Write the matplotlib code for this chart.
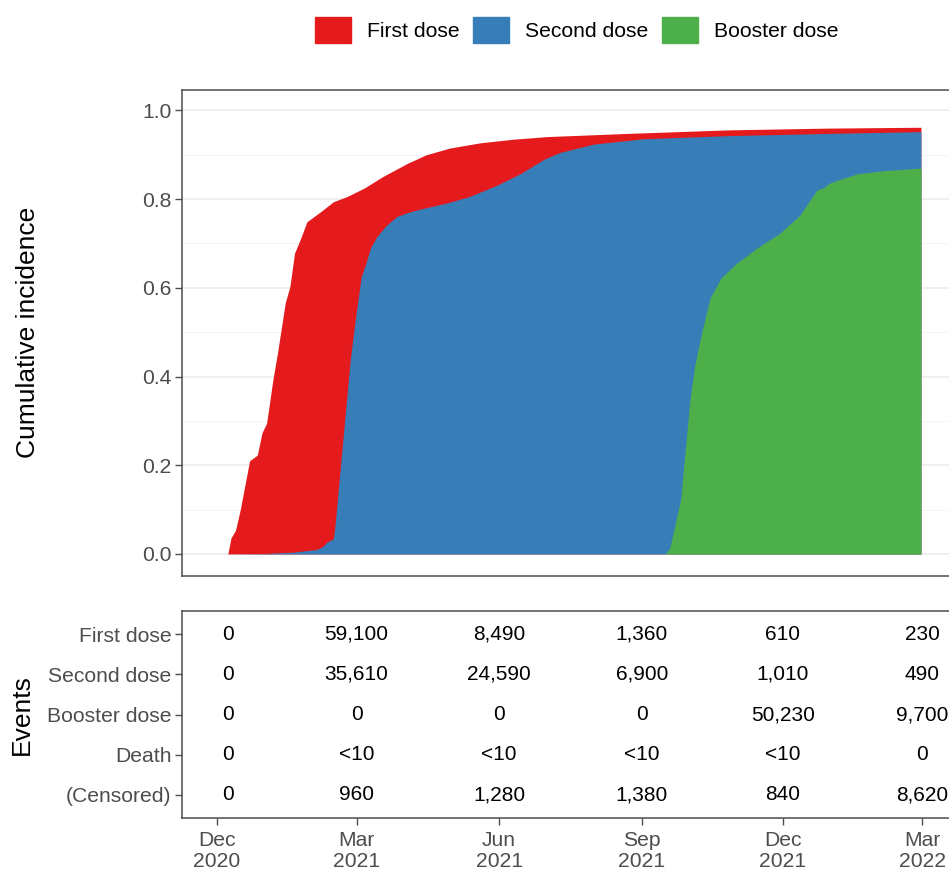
import pandas as pd
import matplotlib
matplotlib.use("Agg")
import matplotlib.pyplot as plt
from matplotlib.patches import Patch

plt.rcParams["font.family"] = ["Liberation Sans", "DejaVu Sans"]

# cumulative incidence curves (days after 1 Dec 2020)
start = pd.Timestamp("2020-12-01")

first_days = [7, 9, 12, 15, 21, 26, 29, 32, 36, 39, 44, 47, 50, 54, 58, 67, 75, 84,
              95, 107, 123, 135, 150, 170, 191, 213, 228, 264, 329, 393, 454]
first_cif = [0.0, 0.036, 0.054, 0.10, 0.21, 0.223, 0.273, 0.295, 0.392, 0.453, 0.566,
             0.603, 0.678, 0.712, 0.749, 0.772, 0.794, 0.806, 0.825, 0.851, 0.881,
             0.90, 0.915, 0.927, 0.935, 0.941, 0.943, 0.948, 0.956, 0.960, 0.962]

second_days = [7, 30, 49, 64, 68, 71, 75, 76, 81, 86, 90, 93, 96, 99, 103, 109, 116,
               125, 133, 148, 163, 181, 196, 211, 221, 243, 275, 329, 393, 454]
second_cif = [0.0, 0.001, 0.004, 0.01, 0.016, 0.027, 0.034, 0.06, 0.25, 0.44, 0.55,
              0.625, 0.655, 0.69, 0.715, 0.74, 0.761, 0.772, 0.779, 0.791, 0.806,
              0.832, 0.858, 0.89, 0.905, 0.924, 0.936, 0.943, 0.948, 0.952]

booster_days = [7, 289, 292, 299, 302, 305, 308, 312, 318, 325, 335, 348, 363, 376,
                387, 391, 395, 404, 413, 430, 454]
booster_cif = [0.0, 0.0, 0.013, 0.122, 0.234, 0.347, 0.422, 0.49, 0.577, 0.622, 0.655,
               0.689, 0.723, 0.764, 0.821, 0.825, 0.836, 0.847, 0.857, 0.864, 0.870]

# events table
row_names = ["First dose", "Second dose", "Booster dose", "Death", "(Censored)"]
table_dates = ["2020-12-08", "2021-03-01", "2021-06-01", "2021-09-01", "2021-12-01", "2022-03-01"]
first_events = ["0", "59,100", "8,490", "1,360", "610", "230"]
second_events = ["0", "35,610", "24,590", "6,900", "1,010", "490"]
booster_events = ["0", "0", "0", "0", "50,230", "9,700"]
death_events = ["0", "<10", "<10", "<10", "<10", "0"]
censored_events = ["0", "960", "1,280", "1,380", "840", "8,620"]

tick_dates = ["2020-12-01", "2021-03-01", "2021-06-01", "2021-09-01", "2021-12-01", "2022-03-01"]
tick_labels = ["Dec\n2020", "Mar\n2021", "Jun\n2021", "Sep\n2021", "Dec\n2021", "Mar\n2022"]

red = "#E41A1C"
blue = "#377EB8"
green = "#4DAF4A"
border = "#4D4D4D"
txt = "#4D4D4D"


def to_dates(days):
    return start + pd.to_timedelta(days, unit="D")


fig = plt.figure(figsize=(9.49, 8.72), dpi=100)
ax = fig.add_axes([0.1915, 0.3398, 0.8177, 0.557])
ax2 = fig.add_axes([0.1915, 0.0619, 0.8177, 0.2374])

# areas, later ones drawn on top
ax.fill_between(to_dates(first_days), 0, first_cif, color=red, lw=0)
ax.fill_between(to_dates(second_days), 0, second_cif, color=blue, lw=0)
ax.fill_between(to_dates(booster_days), 0, booster_cif, color=green, lw=0)

lo = pd.Timestamp("2020-12-01") - pd.Timedelta(days=22.75)
hi = pd.Timestamp("2022-03-01") + pd.Timedelta(days=22.75)
for a in (ax, ax2):
    a.set_xlim(lo, hi)
    for s in a.spines.values():
        s.set_color(border)
        s.set_linewidth(1.1)
    a.tick_params(colors=border, labelcolor=txt, labelsize=15.2, length=5, width=1.0, pad=2.5)

ax.set_ylim(-0.049, 1.046)
ax.set_yticks([0, 0.2, 0.4, 0.6, 0.8, 1.0])
ax.set_yticklabels(["0.0", "0.2", "0.4", "0.6", "0.8", "1.0"])
ax.set_yticks([0.1, 0.3, 0.5, 0.7, 0.9], minor=True)
ax.tick_params(axis="y", which="minor", length=0)
ax.grid(True, axis="y", which="major", color="#EBEBEB", lw=1.1)
ax.grid(True, axis="y", which="minor", color="#F2F2F2", lw=0.6)
ax.set_axisbelow(True)
ax.tick_params(axis="x", bottom=False, labelbottom=False)
ax.set_ylabel("Cumulative incidence", fontsize=19)
ax.yaxis.set_label_coords(-0.183, 0.5)

# table panel
cols = [first_events, second_events, booster_events, death_events, censored_events]
for i, vals in enumerate(cols):
    for d, v in zip(table_dates, vals):
        ax2.text(pd.Timestamp(d), i, v, ha="center", va="center", fontsize=15, color="black")
ax2.set_ylim(4.58, -0.58)
ax2.set_yticks(range(len(row_names)))
ax2.set_yticklabels(row_names)
ax2.set_xticks(pd.to_datetime(tick_dates))
ax2.set_xticklabels(tick_labels)
ax2.tick_params(axis="x", pad=4.5)
for lbl in ax2.get_xticklabels():
    lbl.set_linespacing(1.1)
ax2.set_ylabel("Events", fontsize=19)
ax2.yaxis.set_label_coords(-0.19, 0.5)

handles = [Patch(color=red, label="First dose"),
           Patch(color=blue, label="Second dose"),
           Patch(color=green, label="Booster dose")]
fig.legend(handles=handles, loc="center", bbox_to_anchor=(0.6075, 0.9656), ncol=3,
           frameon=False, fontsize=15.2, handlelength=1.7, handleheight=1.5,
           handletextpad=0.75, columnspacing=0.65)

fig.savefig("out.png", dpi=100)
